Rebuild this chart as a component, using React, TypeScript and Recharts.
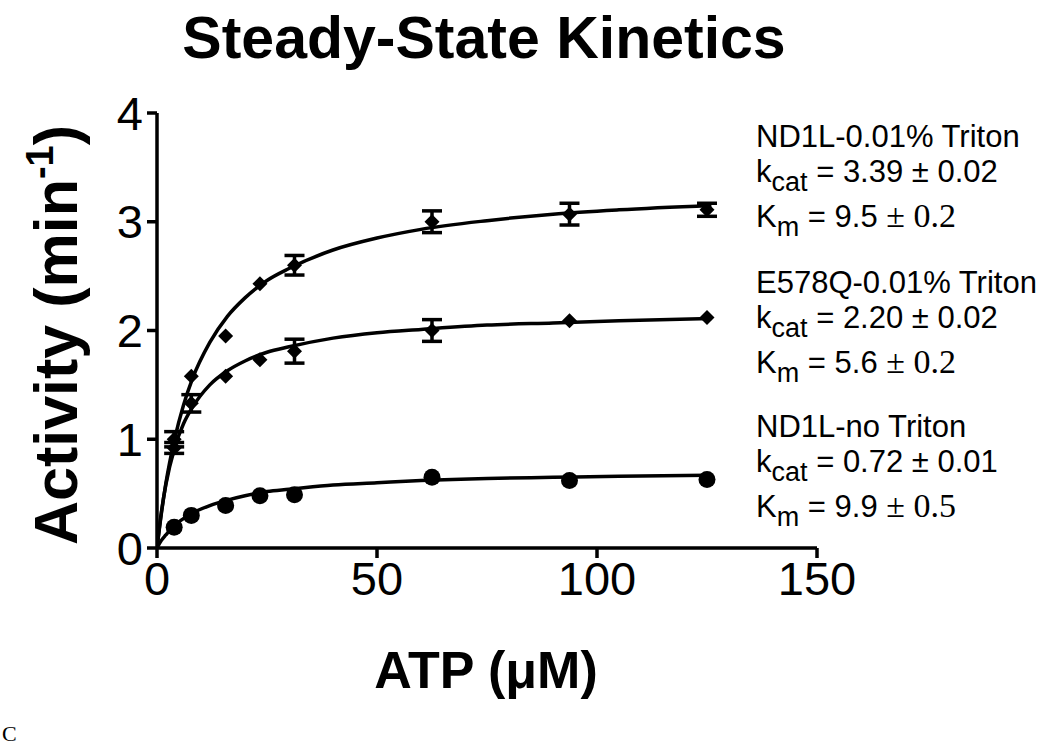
import React from "react";
import { ComposedChart, Line, Scatter, ErrorBar, XAxis, YAxis } from "recharts";

// ---------- data ----------
const atpConc = [3.9, 7.8, 15.6, 23.4, 31.25, 62.5, 93.75, 125];

const nd1lTritonVals = [1.0, 1.58, 1.95, 2.43, 2.6, 3.0, 3.07, 3.11];
const nd1lTritonErr = [0.07, 0, 0, 0, 0.09, 0.1, 0.1, 0.06];

const e578qVals = [0.92, 1.33, 1.58, 1.73, 1.81, 2.0, 2.09, 2.12];
const e578qErr = [0.05, 0.08, 0, 0, 0.11, 0.1, 0, 0];

const nd1lNoTritonVals = [0.19, 0.3, 0.39, 0.48, 0.49, 0.65, 0.62, 0.63];

// fitted curves
const curveX = [0, 1, 2, 4, 6, 8, 12, 16, 20, 25, 30, 40, 50, 60, 75, 90, 105, 126];
const nd1lTritonCurve = [0, 0.32, 0.59, 1.0, 1.31, 1.55, 1.89, 2.13, 2.3, 2.46, 2.57, 2.74, 2.85, 2.93, 3.01, 3.07, 3.11, 3.15];
const e578qCurve = [0, 0.33, 0.58, 0.92, 1.14, 1.29, 1.5, 1.63, 1.72, 1.8, 1.85, 1.93, 1.98, 2.01, 2.05, 2.07, 2.09, 2.11];
const nd1lNoTritonCurve = [0, 0.07, 0.12, 0.21, 0.27, 0.32, 0.39, 0.44, 0.48, 0.52, 0.54, 0.58, 0.6, 0.62, 0.64, 0.65, 0.66, 0.67];

const xTicks = [0, 50, 100, 150];
const yTicks = [0, 1, 2, 3, 4];

const titleText = "Steady-State Kinetics";
const xLabelText = "ATP (\u03bcM)";
const yLabelMain = "Activity (min";
const yLabelSup = "-1";
const panelLetter = "C";

const annotations = [
  { name: "ND1L-0.01% Triton", kcat: "3.39 \u00b1 0.02", kmVal: "9.5", kmErr: "\u00b1 0.2" },
  { name: "E578Q-0.01% Triton", kcat: "2.20 \u00b1 0.02", kmVal: "5.6", kmErr: "\u00b1 0.2" },
  { name: "ND1L-no Triton", kcat: "0.72 \u00b1 0.01", kmVal: "9.9", kmErr: "\u00b1 0.5" },
];

// ---------- build tables ----------
const pts = (vals: number[], errs?: number[]) =>
  atpConc.map((x, i) => ({ x, y: vals[i], err: errs ? errs[i] : 0 }));
const curve = (vals: number[]) => curveX.map((x, i) => ({ x, y: vals[i] }));

const SANS = "'Liberation Sans', Arial, Helvetica, sans-serif";
const SERIF = "'Liberation Serif', 'Times New Roman', serif";

const Diamond = (props: any) => {
  const { cx, cy } = props;
  const r = 7.5;
  return <polygon points={`${cx},${cy - r} ${cx + r},${cy} ${cx},${cy + r} ${cx - r},${cy}`} fill="#000" />;
};
const Dot = (props: any) => {
  const { cx, cy } = props;
  return <circle cx={cx} cy={cy} r={8.5} fill="#000" />;
};

const axisLine = { stroke: "#000", strokeWidth: 3.5 };
const tickLine = { stroke: "#000", strokeWidth: 3.5 };
const tickStyle = { fill: "#000", fontSize: 47, fontFamily: SANS };

export default function App() {
  const annTop = [147, 293, 437];
  const lineGap = [0, 35, 80];
  return (
    <div style={{ position: "absolute", left: 0, top: 0, width: 1050, height: 748, background: "#fff" }}>
      <ComposedChart
        width={1050}
        height={748}
        margin={{ top: 113, right: 233, bottom: 140, left: 97 }}
      >
        <XAxis
          type="number"
          dataKey="x"
          domain={[0, 150]}
          ticks={xTicks}
          allowDataOverflow
          height={60}
          axisLine={axisLine}
          tickLine={tickLine}
          tickSize={10}
          tickMargin={4}
          tick={tickStyle}
        />
        <YAxis
          type="number"
          dataKey="y"
          domain={[0, 4]}
          ticks={yTicks}
          allowDataOverflow
          width={60}
          axisLine={axisLine}
          tickLine={tickLine}
          tickSize={10}
          tickMargin={4}
          tick={tickStyle}
        />
        <Line data={curve(nd1lTritonCurve)} dataKey="y" type="monotone" stroke="#000" strokeWidth={3.5} dot={false} isAnimationActive={false} />
        <Line data={curve(e578qCurve)} dataKey="y" type="monotone" stroke="#000" strokeWidth={3.5} dot={false} isAnimationActive={false} />
        <Line data={curve(nd1lNoTritonCurve)} dataKey="y" type="monotone" stroke="#000" strokeWidth={3.5} dot={false} isAnimationActive={false} />
        <Scatter data={pts(nd1lTritonVals, nd1lTritonErr)} shape={Diamond} isAnimationActive={false}>
          <ErrorBar dataKey="err" direction="y" width={10} stroke="#000" strokeWidth={3.5} isAnimationActive={false} />
        </Scatter>
        <Scatter data={pts(e578qVals, e578qErr)} shape={Diamond} isAnimationActive={false}>
          <ErrorBar dataKey="err" direction="y" width={10} stroke="#000" strokeWidth={3.5} isAnimationActive={false} />
        </Scatter>
        <Scatter data={pts(nd1lNoTritonVals)} shape={Dot} isAnimationActive={false} />
      </ComposedChart>
      <svg
        width={1050}
        height={748}
        style={{ position: "absolute", left: 0, top: 0, pointerEvents: "none" }}
      >
        <text x={484} y={58} textAnchor="middle" fontFamily={SANS} fontWeight="bold" fontSize={59} fill="#000">
          {titleText}
        </text>
        <text x={486} y={688} textAnchor="middle" fontFamily={SANS} fontWeight="bold" fontSize={52} fill="#000">
          {xLabelText}
        </text>
        <text
          transform="translate(77,335) rotate(-90)"
          textAnchor="middle"
          fontFamily={SANS}
          fontWeight="bold"
          fontSize={61}
          fill="#000"
        >
          {yLabelMain}
          <tspan fontSize={38} dy={-24}>{yLabelSup}</tspan>
          <tspan dy={24}>)</tspan>
        </text>
        {annotations.map((a, i) => (
          <g key={i} fontFamily={SANS} fontSize={31} fill="#000">
            <text x={756} y={annTop[i] + lineGap[0]}>{a.name}</text>
            <text x={756} y={annTop[i] + lineGap[1]}>
              k
              <tspan fontSize={27} dy={9}>cat</tspan>
              <tspan dy={-9}> = {a.kcat}</tspan>
            </text>
            <text x={756} y={annTop[i] + lineGap[2]}>
              K
              <tspan fontSize={27} dy={9}>m</tspan>
              <tspan dy={-9}> = {a.kmVal} </tspan>
              <tspan fontFamily={SERIF} fontSize={34}>{a.kmErr}</tspan>
            </text>
          </g>
        ))}
        <text x={2} y={741} fontFamily={SERIF} fontSize={22} fill="#000">
          {panelLetter}
        </text>
      </svg>
    </div>
  );
}
